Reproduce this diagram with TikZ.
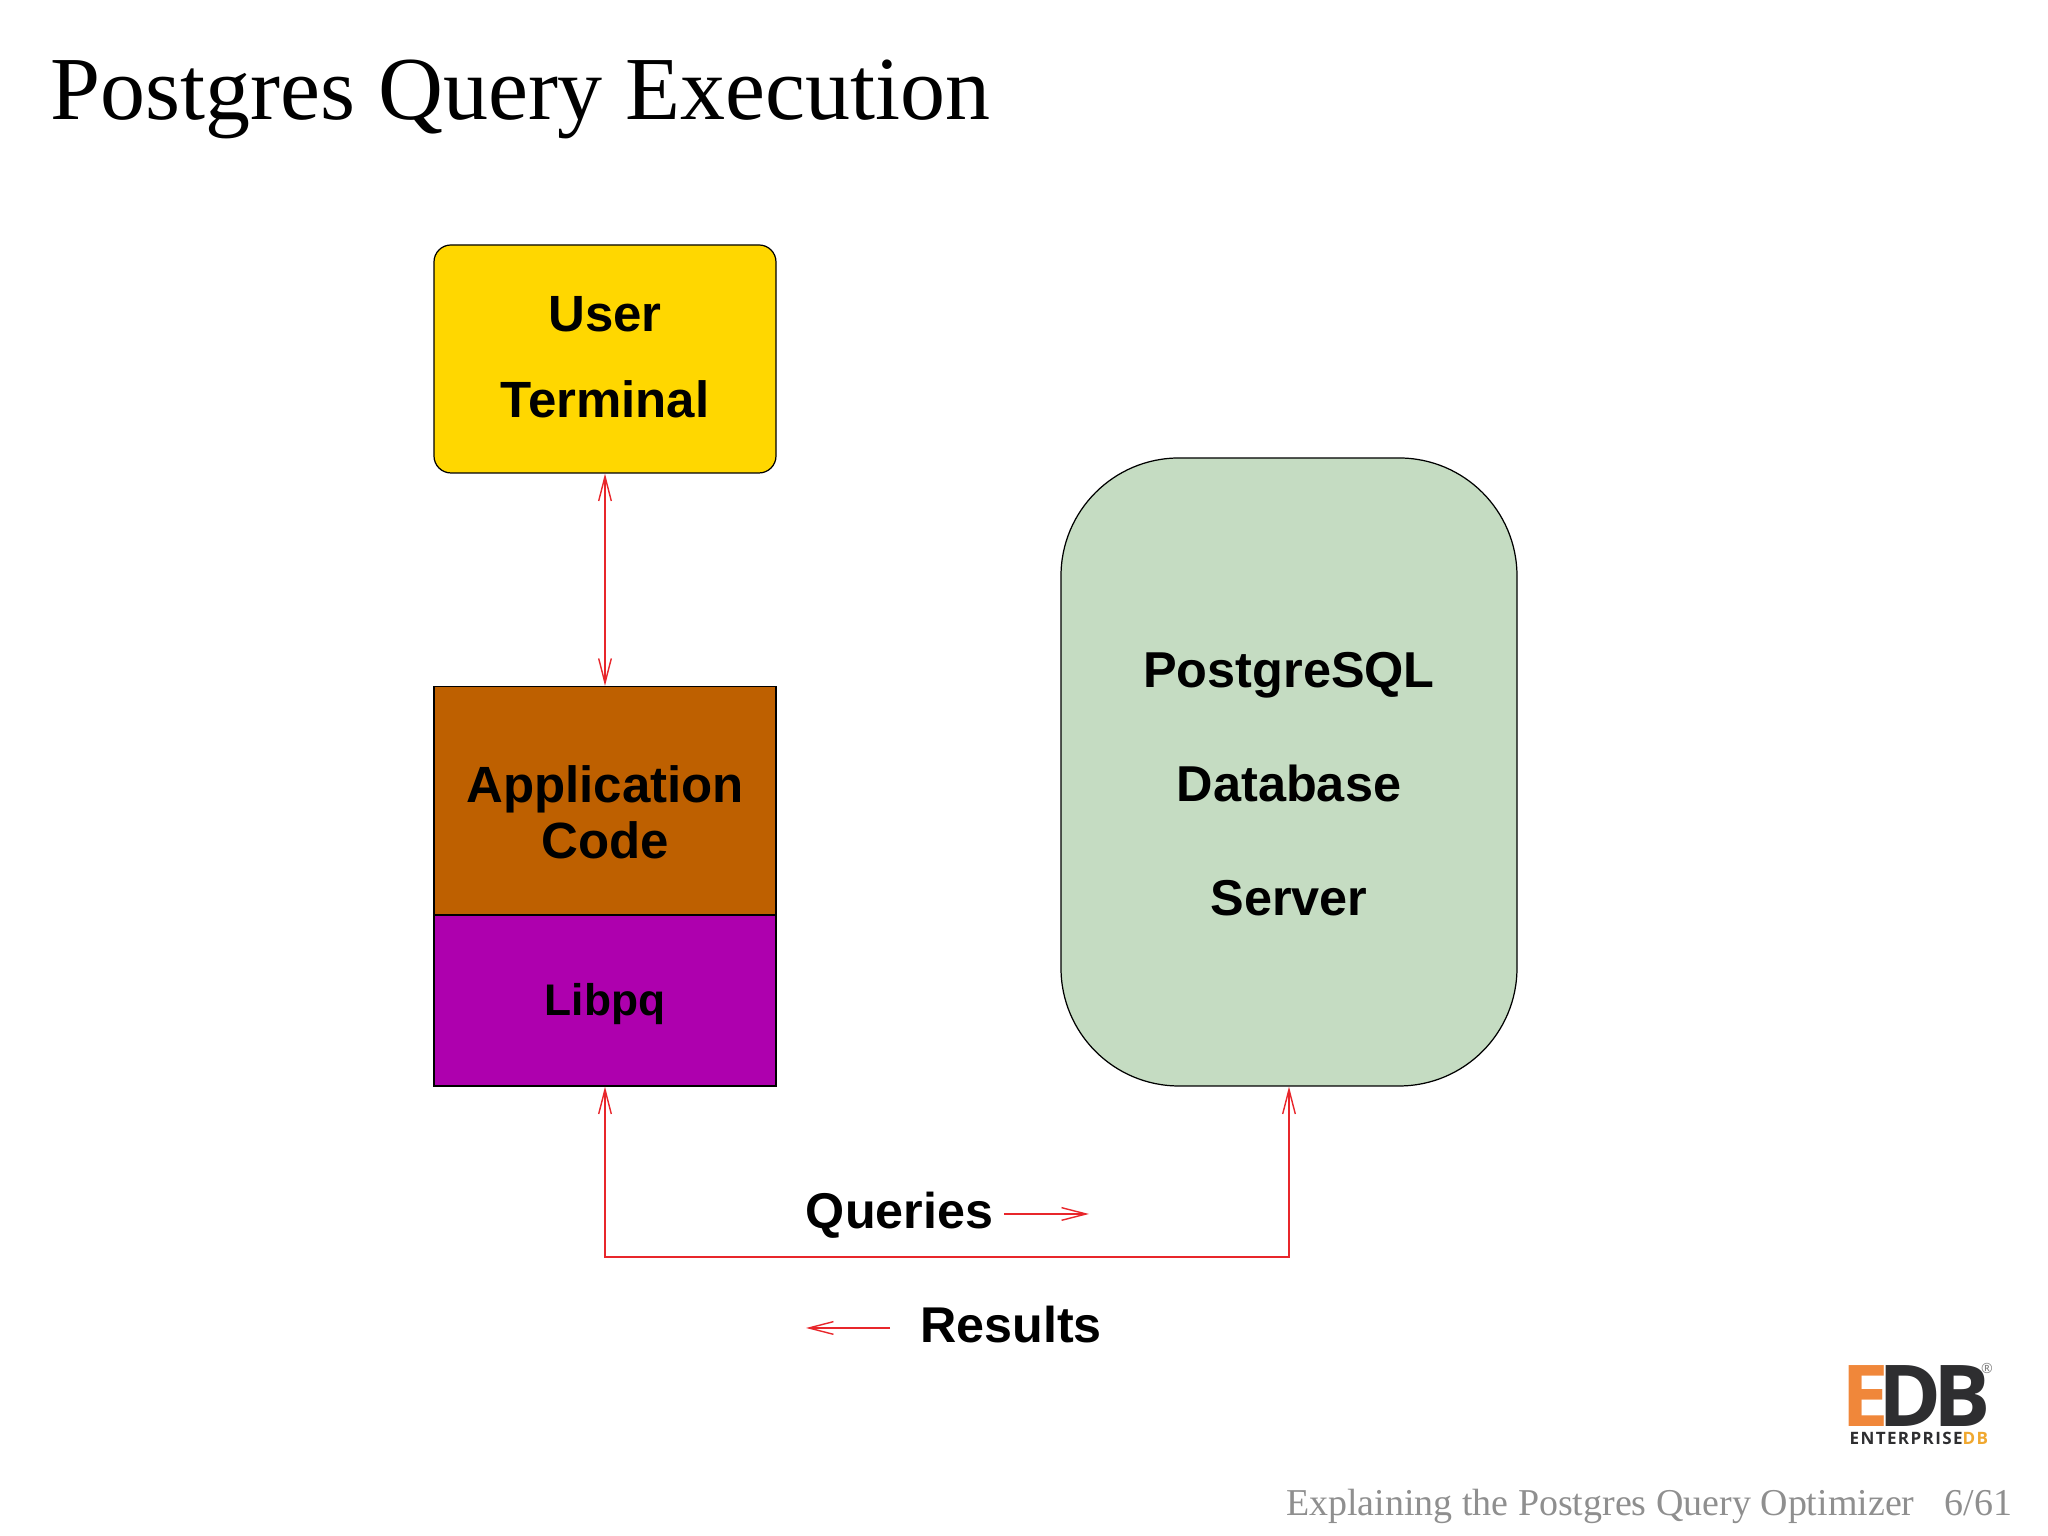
\documentclass[tikz,border=0pt]{standalone}
\usepackage{fontspec}
\setmainfont{Liberation Serif}
\setsansfont{Liberation Sans}
\newfontfamily\logofont{Open Sans}
\usetikzlibrary{arrows.meta}
\definecolor{termyellow}{HTML}{FFD700}
\definecolor{appbrown}{HTML}{BE6000}
\definecolor{libpurple}{HTML}{AE00AE}
\definecolor{servergreen}{HTML}{C5DCC2}
\definecolor{wirered}{HTML}{E8262B}
\definecolor{footgray}{HTML}{8F8F8F}
\definecolor{logodark}{HTML}{2E2E30}
\definecolor{logoorange}{HTML}{F0873A}
\definecolor{logoyellow}{HTML}{F0A830}
\tikzset{
  box/.style={draw=black, line width=0.35pt, inner sep=0pt, align=center, font=\sffamily\bfseries\fontsize{14.5}{16}\selectfont},
  wire/.style={draw=wirered, line width=0.4pt, >={Straight Barb[length=7pt,width=3.6pt]}},
  lbl/.style={anchor=base, inner sep=0pt, font=\sffamily\bfseries\fontsize{14.3}{16}\selectfont},
}
\begin{document}
\begin{tikzpicture}
    \useasboundingbox (0,0) rectangle (20.48,15.36);
    \node[anchor=base west, inner sep=0pt, font=\fontsize{25.6}{30}\selectfont] (title) at (0.5,14.16) {Postgres Query Execution};

    \node[box, fill=termyellow, rounded corners=0.17cm, minimum width=3.42cm, minimum height=2.28cm, font=\sffamily\bfseries\fontsize{14.5}{24.3}\selectfont] (term) at (6.05,11.77) {User\\Terminal\rule[-1.2pt]{0pt}{0pt}};
    \node[box, fill=appbrown, minimum width=3.42cm, minimum height=2.29cm] (app) at (6.05,7.35) {\rule{0pt}{17pt}Application\\Code};
    \node[box, fill=libpurple, minimum width=3.42cm, minimum height=1.71cm, font=\sffamily\bfseries\fontsize{12.6}{15}\selectfont] (libpq) at (6.05,5.355) {\rule{0pt}{11pt}Libpq};
    \node[box, fill=servergreen, rounded corners=1.18cm, minimum width=4.56cm, minimum height=6.28cm, font=\sffamily\bfseries\fontsize{14.35}{32.4}\selectfont] (server) at (12.89,7.64) {\rule{0pt}{17pt}PostgreSQL\\Database\\Server};

    \coordinate (busl) at (6.05,2.79);
    \coordinate (busr) at (12.89,2.79);
    \draw[wire, <->] (term.south) -- (app.north);
    \draw[wire, <->] (libpq.south) -- (busl) -- (busr) -- (server.south);

    \node[lbl] (queries) at (8.995,3.07) {Queries};
    \node[lbl] (results) at (10.11,1.93) {Results};
    \coordinate (qstart) at (10.04,3.22);
    \coordinate (qend) at (10.89,3.22);
    \coordinate (rstart) at (8.90,2.08);
    \coordinate (rend) at (8.06,2.08);
    \draw[wire, ->] (qstart) -- (qend);
    \draw[wire, ->] (rstart) -- (rend);

    % logo
    \node[anchor=base west, inner sep=0pt, font=\logofont\bfseries\fontsize{24.3}{25}\selectfont] (logoedb) at (18.41,1.09) {\textcolor{logoorange}{E}\kern-3pt\textcolor{logodark}{D}\kern-2.5pt\textcolor{logodark}{B}};
    \node[anchor=center, inner sep=0pt, text=gray, font=\logofont\fontsize{4}{4}\selectfont] (logoreg) at (19.87,1.68) {®};
    \node[anchor=base west, inner sep=0pt, font=\logofont\bfseries\fontsize{4.85}{5}\selectfont] (logoname) at (18.49,0.91) {\addfontfeature{LetterSpace=8}\textcolor{logodark}{ENTERPRISE}\textcolor{logoyellow}{DB}};

    \node[anchor=base east, inner sep=0pt, text=footgray, font=\fontsize{10.8}{13}\selectfont] (foot) at (20.13,0.20) {Explaining the Postgres Query Optimizer\hspace{0.8em}6/61};
\end{tikzpicture}
\end{document}
